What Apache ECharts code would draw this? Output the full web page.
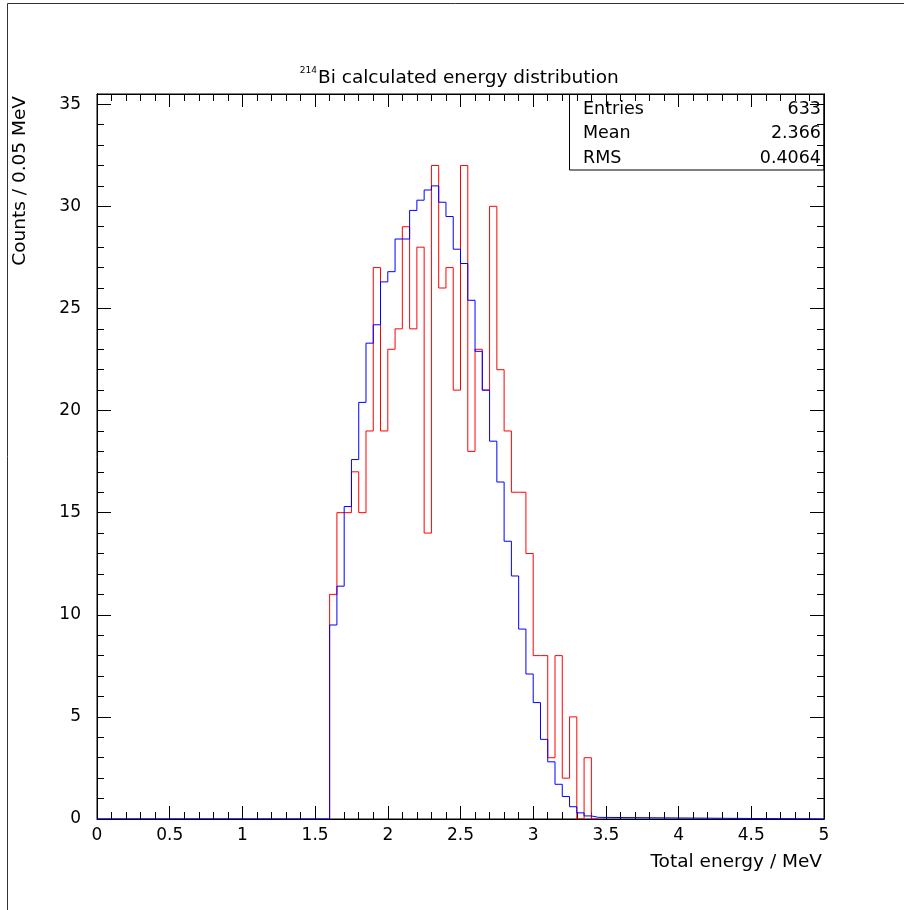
<!DOCTYPE html>
<html lang="en">
<head>
    <meta charset="UTF-8">
    <title>214Bi energy</title>
    <script src="https://cdn.jsdelivr.net/npm/echarts@6/dist/echarts.min.js"></script>
    <style>
        html, body { margin: 0; padding: 0; background: #fff; }
    </style>
</head>
<body>
    <div id="main" style="width: 904px;height:910px;"></div>
<script type="text/javascript">

    // lower bin edges (MeV), bin width 0.05
    var binEdges = [1.60, 1.65, 1.70, 1.75, 1.80, 1.85, 1.90, 1.95, 2.00, 2.05,
                    2.10, 2.15, 2.20, 2.25, 2.30, 2.35, 2.40, 2.45, 2.50, 2.55,
                    2.60, 2.65, 2.70, 2.75, 2.80, 2.85, 2.90, 2.95, 3.00, 3.05,
                    3.10, 3.15, 3.20, 3.25, 3.30, 3.35, 3.40];
    var binWidth = 0.05;
    // measured counts (red)
    var redCounts = [11, 15, 15, 17, 15, 19, 27, 19, 23, 24,
                     29, 24, 28, 14, 32, 26, 27, 21, 32, 18,
                     23, 21, 30, 22, 19, 16, 16, 13, 8, 8,
                     3, 8, 2, 5, 0, 3, 0];
    // calculated distribution (blue)
    var blueCounts = [9.5, 11.4, 15.3, 17.6, 20.4, 23.3, 24.2, 26.3, 26.8, 28.4,
                      28.4, 29.8, 30.3, 30.8, 31.0, 30.2, 29.5, 27.9, 27.2, 25.4,
                      22.9, 21.0, 18.5, 16.5, 13.6, 11.9, 9.3, 7.1, 5.7, 3.9,
                      2.8, 1.7, 1.1, 0.6, 0.3, 0.15, 0.08];
    var xRange = [0, 5];
    var yRange = [0, 35.5];
    var statNames = ['Entries', 'Mean', 'RMS'];
    var statValues = ['633', '2.366', '0.4064'];

    var FONT = 'DejaVu Sans';

    // step outline of a histogram
    function histPath(counts, fullRange) {
        var pts = [];
        if (fullRange) pts.push([xRange[0], 0]);
        pts.push([binEdges[0], 0]);
        for (var i = 0; i < counts.length; i++) {
            pts.push([binEdges[i], counts[i]]);
        }
        var last = binEdges[binEdges.length - 1] + binWidth;
        pts.push([last, counts[counts.length - 1]]);
        pts.push([last, 0]);
        if (fullRange) pts.push([xRange[1], 0]);
        return pts;
    }

    var myChart = echarts.init(document.getElementById('main'));

    function xAx(pos, labels) {
        return {
            type: 'value', position: pos, min: xRange[0], max: xRange[1], interval: 0.5,
            axisLine: { show: true, onZero: false, lineStyle: { color: '#000', width: 1 } },
            axisTick: { show: true, inside: true, length: 13, lineStyle: { color: '#000' } },
            minorTick: { show: true, splitNumber: 5, length: 7, lineStyle: { color: '#000' } },
            splitLine: { show: false },
            axisLabel: { show: labels, color: '#000', fontFamily: FONT, fontSize: 17, margin: 8 }
        };
    }
    function yAx(pos, step, len, labels) {
        return {
            type: 'value', position: pos, min: yRange[0], max: yRange[1], interval: step,
            axisLine: { show: true, onZero: false, lineStyle: { color: '#000', width: 1 } },
            axisTick: { show: true, inside: true, length: len, lineStyle: { color: '#000' } },
            splitLine: { show: false },
            axisLabel: { show: labels, color: '#000', fontFamily: FONT, fontSize: 17, margin: 16,
                         showMaxLabel: false }
        };
    }

    var option = {
        animation: false,
        backgroundColor: '#fff',
        grid: { left: 97, right: 80, top: 94, bottom: 91, show: true, borderColor: '#000', borderWidth: 1 },
        xAxis: [xAx('bottom', true), xAx('top', false)],
        yAxis: [yAx('left', 5, 14, true), yAx('left', 1, 7, false),
                yAx('right', 5, 14, false), yAx('right', 1, 7, false)],
        series: [
            {
                type: 'line', step: 'end', symbol: 'none',
                data: histPath(redCounts, false),
                lineStyle: { color: '#ff0000', width: 1 }
            },
            {
                type: 'line', step: 'end', symbol: 'none',
                data: histPath(blueCounts, true),
                lineStyle: { color: '#0000ff', width: 1 }
            }
        ],
        graphic: [
            { type: 'polyline', silent: true,
              shape: { points: [[7.5, 910], [7.5, 3.5], [904, 3.5]] },
              style: { stroke: '#333', lineWidth: 1, fill: null } },
            { type: 'text', x: 317, y: 71,
              style: { text: '214', fontFamily: FONT, fontSize: 9, fill: '#000',
                       align: 'right', verticalAlign: 'middle' } },
            { type: 'text', x: 318, y: 78,
              style: { text: 'Bi calculated energy distribution', fontFamily: FONT, fontSize: 18.5,
                       fill: '#000', verticalAlign: 'middle' } },
            { type: 'text', x: 822, y: 862,
              style: { text: 'Total energy / MeV', fontFamily: FONT, fontSize: 18.5, fill: '#000',
                       align: 'right', verticalAlign: 'middle' } },
            { type: 'text', x: 20, y: 96, rotation: Math.PI / 2,
              style: { text: 'Counts / 0.05 MeV', fontFamily: FONT, fontSize: 18.5, fill: '#000',
                       align: 'right', verticalAlign: 'middle' } },
            { type: 'rect', z: 10, silent: true,
              shape: { x: 569.5, y: 94.5, width: 254.5, height: 75.5 },
              style: { fill: null, stroke: '#000', lineWidth: 1 } }
        ]
    };

    for (var i = 0; i < statNames.length; i++) {
        option.graphic.push({ type: 'text', z: 10, x: 583, y: 109 + i * 24.5,
            style: { text: statNames[i], fontFamily: FONT, fontSize: 17.5, fill: '#000', verticalAlign: 'middle' } });
        option.graphic.push({ type: 'text', z: 10, x: 821, y: 109 + i * 24.5,
            style: { text: statValues[i], fontFamily: FONT, fontSize: 17.5, fill: '#000',
                     align: 'right', verticalAlign: 'middle' } });
    }

    myChart.setOption(option);
</script>

</body>
</html>
